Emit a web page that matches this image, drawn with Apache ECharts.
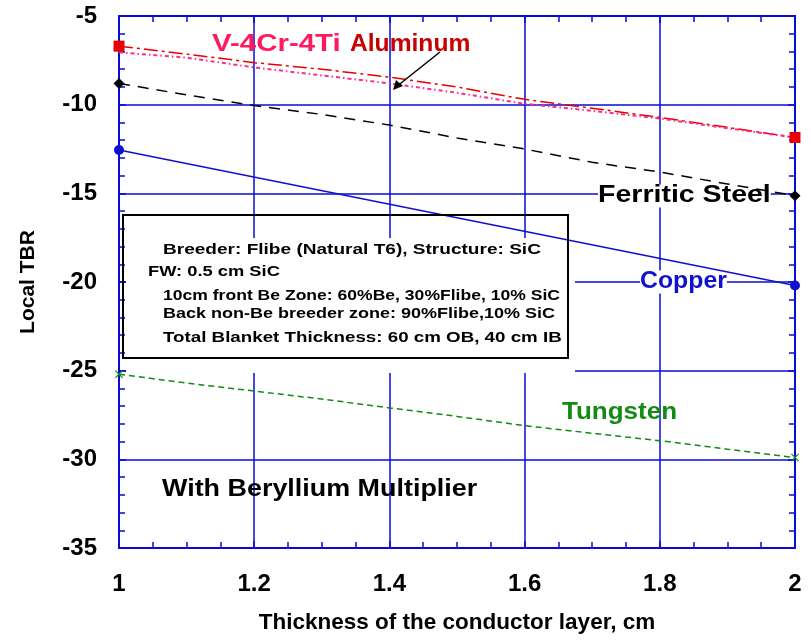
<!DOCTYPE html>
<html>
<head>
<meta charset="utf-8">
<script src="https://cdn.jsdelivr.net/npm/echarts@6/dist/echarts.min.js"></script>
<style>
  html, body { margin: 0; padding: 0; background: #fff; }
  #chart { width: 811px; height: 640px; }
</style>
</head>
<body>
<div id="chart"></div>
<script>
// Conductor-layer thickness (cm) sampled for the blanket runs
const thickness = [1.0, 1.1, 1.2, 1.3, 1.4, 1.5, 1.6, 1.7, 1.8, 1.9, 2.0];

// Local TBR change for each conductor material
const vanadiumTBR  = [-6.7, -7.15, -7.63, -8.0, -8.45, -9.0, -9.7, -10.2, -10.72, -11.28, -11.85];
const aluminumTBR  = [-7.05, -7.35, -7.9, -8.35, -8.8, -9.33, -9.95, -10.35, -10.78, -11.33, -11.85];
const ferriticTBR  = [-8.8, -9.45, -10.05, -10.55, -11.15, -11.88, -12.5, -13.25, -13.8, -14.47, -15.13];
const copperThickness = [1.0, 2.0];
const copperTBR    = [-12.56, -20.2];
const tungstenTBR  = [-25.2, -25.7, -26.15, -26.6, -27.1, -27.58, -28.1, -28.53, -28.95, -29.43, -29.9];

const yTicks = [-35, -30, -25, -20, -15, -10, -5];
const xTicks = [1, 1.2, 1.4, 1.6, 1.8, 2];

const noteLines = [
  'Breeder: Flibe (Natural T6), Structure: SiC',
  'FW: 0.5 cm SiC',
  '10cm front Be Zone: 60%Be, 30%Flibe, 10% SiC',
  'Back non-Be breeder zone: 90%Flibe,10% SiC',
  'Total Blanket Thickness: 60 cm OB, 40 cm IB'
];

const AXIS_BLUE = '#0a0ad8';
const FONT = '"Liberation Sans", Arial, sans-serif';
const xShape = 'path://M0,1L1,0L5,4L9,0L10,1L6,5L10,9L9,10L5,6L1,10L0,9L4,5Z';

// endpoints carry the material marker, inner samples are plain line vertices
function pairs(xs, ys, symbol) {
  return xs.map((x, i) => {
    const end = i === 0 || i === xs.length - 1;
    return { value: [x, ys[i]], symbol: end ? symbol : 'none' };
  });
}

function lineSeries(name, xs, ys, color, dash, width, symbol, size) {
  return {
    name, type: 'line', z: 3,
    data: pairs(xs, ys, symbol),
    symbolSize: size,
    lineStyle: { color, width, type: dash },
    itemStyle: { color },
    clip: false,
    animation: false
  };
}

function axisCommon(extra) {
  return Object.assign({
    type: 'value',
    axisLine: { show: true, onZero: false, lineStyle: { color: AXIS_BLUE, width: 2 } },
    axisTick: { show: true, inside: true, length: 7, lineStyle: { color: AXIS_BLUE, width: 1.5 } },
    minorTick: { show: true, length: 6, lineStyle: { color: AXIS_BLUE, width: 1.5 } },
    splitLine: { show: false },
    axisLabel: { show: false }
  }, extra);
}

// a bold, horizontally widened text label
function label(text, x, y, color, size, sx, z, extra) {
  return {
    type: 'text', z: z || 4, x, y, scaleX: sx,
    style: Object.assign({
      text, fontFamily: FONT, fontWeight: 'bold', fontSize: size, fill: color, verticalAlign: 'middle'
    }, extra || {})
  };
}

const chart = echarts.init(document.getElementById('chart'), null, { renderer: 'canvas' });

const tickFont = { fontFamily: FONT, fontWeight: 'bold', fontSize: 24, color: '#000' };

chart.setOption({
  backgroundColor: '#fff',
  animation: false,
  grid: { left: 119, right: 16, top: 16, bottom: 92 },
  xAxis: [
    axisCommon({
      position: 'bottom', min: 1, max: 2, interval: 0.2,
      minorTick: { show: true, splitNumber: 4, length: 6, lineStyle: { color: AXIS_BLUE, width: 1.5 } },
      splitLine: { show: true, lineStyle: { color: AXIS_BLUE, width: 1.5 } },
      axisLabel: Object.assign({
        show: true, margin: 24,
        formatter: v => xTicks.find(t => Math.abs(t - v) < 1e-6) !== undefined ? String(+v.toFixed(1)) : ''
      }, tickFont),
      name: 'Thickness of the conductor layer, cm',
      nameLocation: 'middle', nameGap: 63,
      nameTextStyle: { fontFamily: FONT, fontWeight: 'bold', fontSize: 22.5, color: '#000' }
    }),
    axisCommon({
      position: 'top', min: 1, max: 2, interval: 0.2,
      minorTick: { show: true, splitNumber: 4, length: 6, lineStyle: { color: AXIS_BLUE, width: 1.5 } }
    })
  ],
  yAxis: [
    axisCommon({
      position: 'left', min: -35, max: -5, interval: 5,
      minorTick: { show: true, splitNumber: 5, length: 6, lineStyle: { color: AXIS_BLUE, width: 1.5 } },
      splitLine: { show: true, lineStyle: { color: AXIS_BLUE, width: 1.5 } },
      axisLabel: Object.assign({
        show: true, margin: 22,
        formatter: v => yTicks.includes(Math.round(v)) ? String(Math.round(v)) : ''
      }, tickFont),
      name: 'Local TBR',
      nameLocation: 'middle', nameGap: 80, nameRotate: 90,
      nameTextStyle: { fontFamily: FONT, fontWeight: 'bold', fontSize: 21, color: '#000' }
    }),
    axisCommon({
      position: 'right', min: -35, max: -5, interval: 5,
      minorTick: { show: true, splitNumber: 5, length: 6, lineStyle: { color: AXIS_BLUE, width: 1.5 } }
    })
  ],
  series: [
    lineSeries('V-4Cr-4Ti', thickness, vanadiumTBR, '#e80000', [14, 4, 3, 4], 1.5, 'rect', 11),
    lineSeries('Aluminum', thickness, aluminumTBR, '#ff2a8a', [4, 3, 1.5, 3], 2, 'none', 0),
    lineSeries('Ferritic Steel', thickness, ferriticTBR, '#000000', [11, 8], 1.5, 'diamond', 11),
    lineSeries('Copper', copperThickness, copperTBR, '#1010d0', 'solid', 1.5, 'circle', 10),
    lineSeries('Tungsten', thickness, tungstenTBR, '#138a13', [6, 4], 1.5, xShape, 8)
  ],
  graphic: [
    // white panel behind the run description
    { type: 'rect', z: 1, shape: { x: 126, y: 238, width: 449, height: 135 }, style: { fill: '#fff' } },
    { type: 'rect', z: 4, shape: { x: 123, y: 215, width: 445, height: 143 },
      style: { fill: 'none', stroke: '#000', lineWidth: 2 } },
    ...noteLines.map((t, i) => label(t, i === 1 ? 148 : 163, [250, 272, 296, 314, 338][i], '#000', 15,
                                     [1.27, 1.22, 1.17, 1.2, 1.25][i])),
    // material labels
    label('V-4Cr-4Ti', 212, 45, '#ff1a60', 23, 1.28),
    label('Aluminum', 350, 45, '#c80000', 23, 1.07),
    { type: 'line', z: 4, shape: { x1: 440, y1: 52, x2: 396, y2: 87 }, style: { stroke: '#000', lineWidth: 1.5 } },
    { type: 'polygon', z: 4, shape: { points: [[393, 90], [396, 80], [403, 86]] }, style: { fill: '#000' } },
    label('Ferritic Steel', 598, 196, '#000', 23, 1.24, 2, { backgroundColor: '#fff' }),
    label('Copper', 640, 282, '#1010d0', 23, 1.08, 2, { backgroundColor: '#fff' }),
    label('Tungsten', 562, 413, '#138a13', 23, 1.13),
    label('With Beryllium Multiplier', 162, 490, '#000', 23, 1.17)
  ]
});
</script>
</body>
</html>
